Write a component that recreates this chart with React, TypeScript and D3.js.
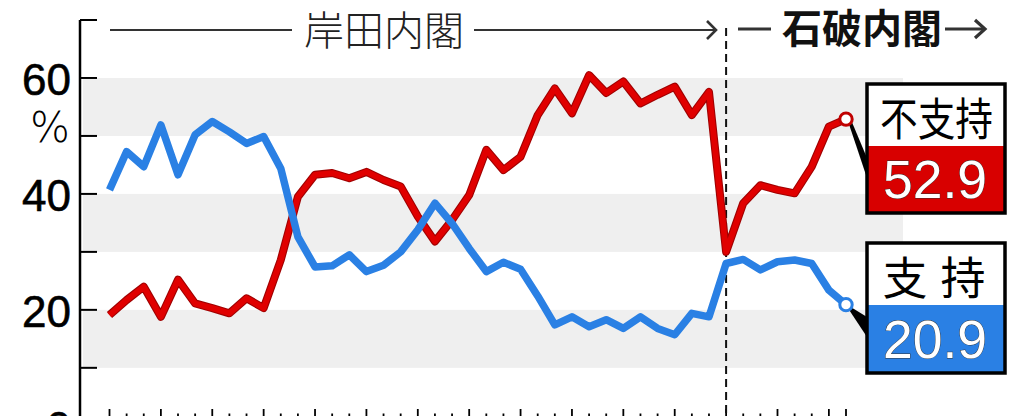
import React, { useEffect, useRef } from "react";
import * as d3 from "d3";

// monthly poll, Oct 2021 .. May 2025 (Kishida -> Ishiba)
const months: Date[] = d3.timeMonths(new Date(2021, 9, 1), new Date(2025, 5, 1));
const ishibaStart = 36; // index of Oct 2024

// 支持 (support)
const supportValues = [
    40.7, 47.3, 44.7, 51.9, 43.3, 50.2, 52.5, 50.7, 48.7, 49.9, 44.4, 32.6,
    27.4, 27.6, 29.5, 26.6, 27.7, 30.0, 33.8, 38.4, 34.9, 30.6, 26.6, 28.2,
    27.0, 22.4, 17.4, 18.8, 17.1, 18.3, 16.8, 18.8, 16.8, 15.7, 19.4, 18.8,
    28.0, 28.7, 26.9, 28.3, 28.6, 28.0, 23.4, 20.9,
];

// 不支持 (non-support)
const nonSupportValues = [
    19.1, 21.7, 24.0, 18.8, 25.2, 21.1, 20.3, 19.4, 22.0, 20.3, 28.6, 39.5,
    43.3, 43.6, 42.7, 43.8, 42.4, 41.3, 36.1, 31.8, 35.5, 39.8, 47.6, 44.1,
    46.4, 53.6, 58.2, 53.9, 60.5, 57.4, 59.4, 55.6, 57.1, 58.5, 53.6, 57.6,
    30.0, 38.4, 41.5, 40.7, 40.1, 44.7, 51.6, 52.9,
];

const yTicks = [0, 10, 20, 30, 40, 50, 60, 70];
const yLabels = [0, 20, 40, 60];
const bands: [number, number][] = [[50, 60], [30, 40], [10, 20]];

const RED = "#e00000";
const RED_DARK = "#a00000";
const BLUE = "#2a80e4";
const NUM_FONT = "'Liberation Sans', Arial, sans-serif";
const JP_FONT = "'Noto Sans CJK JP', 'Noto Sans', sans-serif";

export default function App() {
    const ref = useRef<SVGSVGElement | null>(null);

    useEffect(() => {
        const svg = d3.select(ref.current);
        svg.selectAll("*").remove();

        const xScale = d3.scaleLinear().domain([0, months.length - 1]).range([109.5, 846]);
        const yScale = d3.scaleLinear().domain([0, 70]).range([425.8, 20]);
        const axisX = 80;

        // gray bands
        svg.append("g")
            .selectAll("rect")
            .data(bands)
            .enter()
            .append("rect")
            .attr("x", 83)
            .attr("width", 903 - 83)
            .attr("y", d => yScale(d[1]))
            .attr("height", d => yScale(d[0]) - yScale(d[1]))
            .attr("fill", "#efefef");

        // y axis
        svg.append("line")
            .attr("x1", axisX).attr("x2", axisX)
            .attr("y1", yScale(70)).attr("y2", 440)
            .attr("stroke", "#000").attr("stroke-width", 2.5);
        svg.append("g")
            .selectAll("line")
            .data(yTicks)
            .enter()
            .append("line")
            .attr("x1", axisX).attr("x2", 97)
            .attr("y1", d => yScale(d)).attr("y2", d => yScale(d))
            .attr("stroke", "#000").attr("stroke-width", 2);
        svg.append("g")
            .selectAll("text")
            .data(yLabels)
            .enter()
            .append("text")
            .attr("x", 71)
            .attr("y", d => yScale(d) + 17.5)
            .attr("text-anchor", "end")
            .attr("font-family", NUM_FONT)
            .attr("font-size", 44)
            .attr("fill", "#000")
            .attr("stroke", "#000")
            .attr("stroke-width", 0.6)
            .text(d => d);
        svg.append("text")
            .attr("x", 50).attr("y", 142)
            .attr("text-anchor", "middle")
            .attr("font-family", "'DejaVu Sans', sans-serif")
            .attr("font-weight", 300)
            .attr("font-size", 42)
            .text("%");

        // x ticks (tall every quarter, and at the last month)
        svg.append("g")
            .selectAll("line")
            .data(months)
            .enter()
            .append("line")
            .attr("x1", (d, i) => xScale(i)).attr("x2", (d, i) => xScale(i))
            .attr("y1", yScale(0))
            .attr("y2", (d, i) => (d.getMonth() % 3 === 0 || i === months.length - 1 ? 409 : 413.5))
            .attr("stroke", "#000").attr("stroke-width", 1.8);

        // cabinet divider
        svg.append("line")
            .attr("x1", xScale(ishibaStart)).attr("x2", xScale(ishibaStart))
            .attr("y1", 28).attr("y2", 416)
            .attr("stroke", "#111").attr("stroke-width", 2)
            .attr("stroke-dasharray", "8,5");

        // header: 岸田内閣 / 石破内閣
        const head = svg.append("g").attr("stroke", "#333").attr("stroke-width", 2.2).attr("fill", "none");
        head.append("line").attr("x1", 110).attr("x2", 292).attr("y1", 30).attr("y2", 30);
        head.append("line").attr("x1", 474).attr("x2", 715).attr("y1", 30).attr("y2", 30);
        head.append("path").attr("d", "M707,21 L716,30 L707,39").attr("stroke-width", 2.6);
        head.append("line").attr("x1", 738).attr("x2", 771).attr("y1", 29).attr("y2", 29).attr("stroke-width", 3);
        head.append("line").attr("x1", 945).attr("x2", 984).attr("y1", 29).attr("y2", 29).attr("stroke-width", 3);
        head.append("path").attr("d", "M975,20 L985,29 L975,38").attr("stroke-width", 3.2);

        svg.append("text")
            .attr("x", 384).attr("y", 45)
            .attr("text-anchor", "middle")
            .attr("font-family", JP_FONT)
            .attr("font-weight", 300)
            .attr("font-size", 40)
            .attr("fill", "#222")
            .text("岸田内閣");
        svg.append("text")
            .attr("x", 862).attr("y", 43)
            .attr("text-anchor", "middle")
            .attr("font-family", JP_FONT)
            .attr("font-weight", 700)
            .attr("font-size", 40)
            .attr("fill", "#111")
            .text("石破内閣");

        // lines
        const line = d3
            .line<number>()
            .x((d, i) => xScale(i))
            .y(d => yScale(d));

        svg.append("path")
            .datum(nonSupportValues)
            .attr("d", line)
            .attr("fill", "none")
            .attr("stroke", RED_DARK)
            .attr("stroke-width", 8)
            .attr("stroke-linejoin", "round");
        svg.append("path")
            .datum(nonSupportValues)
            .attr("d", line)
            .attr("fill", "none")
            .attr("stroke", RED)
            .attr("stroke-width", 5.8)
            .attr("stroke-linejoin", "round");
        svg.append("path")
            .datum(supportValues)
            .attr("d", line)
            .attr("fill", "none")
            .attr("stroke", BLUE)
            .attr("stroke-width", 7.5)
            .attr("stroke-linejoin", "round");

        // end markers, connectors, labels
        const last = months.length - 1;
        const labels = [
            { values: nonSupportValues, color: "#d80000", ring: "#c00000", top: 84, mid: 146, bottom: 213, words: ["不支持"] },
            { values: supportValues, color: BLUE, ring: BLUE, top: 243, mid: 305, bottom: 373, words: ["支", "持"] },
        ];
        const boxLeft = 867;
        const boxRight = 1005;

        labels.forEach(lb => {
            const cx = xScale(last);
            const cy = yScale(lb.values[last]);
            const g = svg.append("g");

            g.append("path")
                .attr("d", `M${cx + 3},${cy + 5} L${cx + 6},${cy + 3} L${boxLeft},${lb.mid + 12} L${boxLeft},${lb.mid + 32} Z`)
                .attr("fill", "#000");

            g.append("circle")
                .attr("cx", cx).attr("cy", cy).attr("r", 6.2)
                .attr("fill", "#fff")
                .attr("stroke", lb.ring)
                .attr("stroke-width", 3);

            g.append("rect")
                .attr("x", boxLeft).attr("y", lb.top)
                .attr("width", boxRight - boxLeft).attr("height", lb.mid - lb.top)
                .attr("fill", "#fff");
            g.append("rect")
                .attr("x", boxLeft).attr("y", lb.mid)
                .attr("width", boxRight - boxLeft).attr("height", lb.bottom - lb.mid)
                .attr("fill", lb.color);
            g.append("rect")
                .attr("x", boxLeft).attr("y", lb.top)
                .attr("width", boxRight - boxLeft).attr("height", lb.bottom - lb.top)
                .attr("fill", "none")
                .attr("stroke", "#000").attr("stroke-width", 3.5);

            if (lb.words.length === 1) {
                g.append("text")
                    .attr("x", 936.5).attr("y", lb.mid - 10)
                    .attr("text-anchor", "middle")
                    .attr("font-family", JP_FONT)
                    .attr("font-size", 45)
                    .attr("textLength", 113)
                    .attr("lengthAdjust", "spacingAndGlyphs")
                    .attr("fill", "#000")
                    .text(lb.words[0]);
            } else {
                const centers = [905, 963];
                lb.words.forEach((w, j) => {
                    g.append("text")
                        .attr("x", centers[j]).attr("y", lb.mid - 10)
                        .attr("text-anchor", "middle")
                        .attr("font-family", JP_FONT)
                        .attr("font-size", 45)
                        .attr("fill", "#000")
                        .text(w);
                });
            }

            g.append("text")
                .attr("x", 935).attr("y", lb.bottom - 15)
                .attr("text-anchor", "middle")
                .attr("font-family", NUM_FONT)
                .attr("font-size", 53)
                .attr("textLength", 104)
                .attr("lengthAdjust", "spacingAndGlyphs")
                .attr("fill", "#fff")
                .attr("stroke", "#333")
                .attr("stroke-width", 0.8)
                .attr("paint-order", "stroke")
                .text(lb.values[last].toFixed(1));
        });
    }, []);

    return (
        <svg
            ref={ref}
            width={1024}
            height={416}
            style={{ position: "absolute", left: 0, top: 0, background: "#fff" }}
        />
    );
}
